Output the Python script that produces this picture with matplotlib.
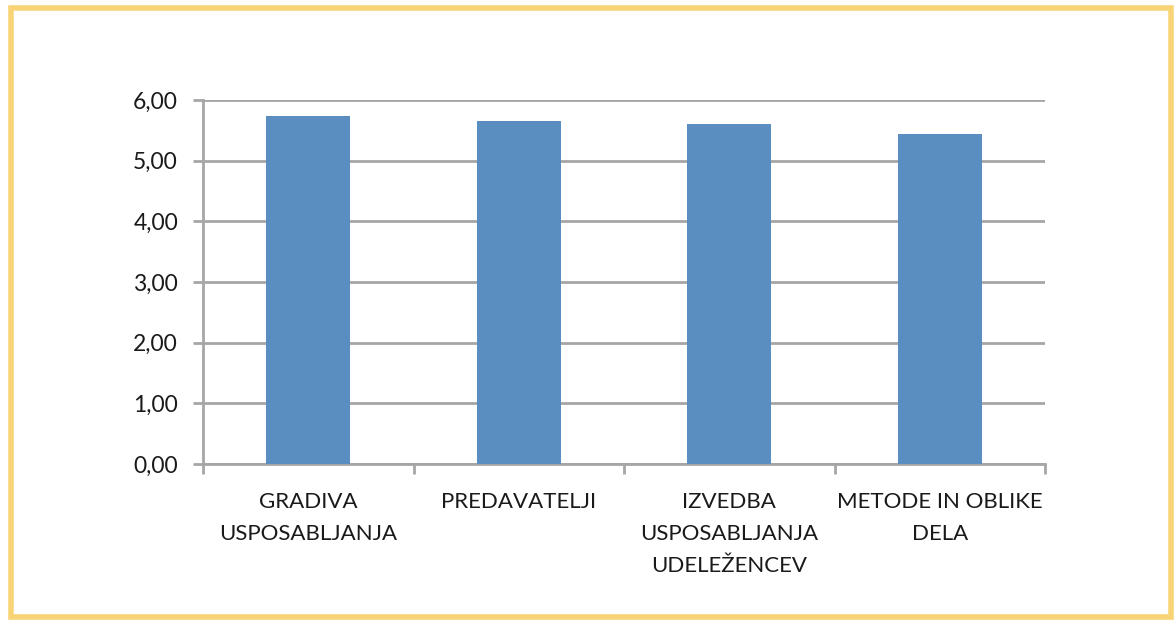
import matplotlib.pyplot as plt
import matplotlib.patches as patches
import numpy as np

plt.rcParams['font.family'] = ['Lato', 'DejaVu Sans']

# data
categories = ['GRADIVA\nUSPOSABLJANJA', 'PREDAVATELJI',
              'IZVEDBA\nUSPOSABLJANJA\nUDELEŽENCEV', 'METODE IN OBLIKE\nDELA']
values = [5.74, 5.65, 5.60, 5.44]
yticks = [0, 1, 2, 3, 4, 5, 6]

W, H = 1176, 621
fig = plt.figure(figsize=(W / 100, H / 100), dpi=100)
fig.patch.set_facecolor('white')

# yellow frame round the picture
fig.add_artist(patches.Rectangle((10.5 / W, 1 - 617 / H), 1160 / W, 609 / H,
                                 transform=fig.transFigure, fill=False,
                                 edgecolor='#F8D477', linewidth=4))

ax = fig.add_axes([203 / W, 1 - 464 / H, (1045 - 203) / W, (464 - 100) / H])
x = np.arange(len(categories))
ax.bar(x, values, width=0.4, color='#5A8EC0', zorder=3)

ax.set_xlim(-0.5, len(categories) - 0.5)
ax.set_ylim(0, 6)
ax.set_yticks(yticks)
ax.set_yticklabels([f'{v:.2f}'.replace('.', ',') for v in yticks])
ax.yaxis.grid(True, color='#A6A6A6', linewidth=2, zorder=0)

# category ticks sit on the boundaries, labels centered between them
ax.set_xticks(np.arange(len(categories) + 1) - 0.5)
ax.set_xticklabels([])
ax.set_xticks(x, minor=True)
ax.set_xticklabels(categories, minor=True, linespacing=1.75,
                   va='top', ha='center')
ax.tick_params(axis='x', which='minor', length=0, pad=20, labelsize=16,
               labelcolor='#1a1a1a')
ax.tick_params(axis='x', which='major', length=7, width=2, color='#A6A6A6')
ax.tick_params(axis='y', length=7, width=2, color='#A6A6A6', pad=11,
               labelsize=16.5, labelcolor='#1a1a1a')

for s in ['top', 'right']:
    ax.spines[s].set_visible(False)
for s in ['left', 'bottom']:
    ax.spines[s].set_color('#A6A6A6')
    ax.spines[s].set_linewidth(2)

fig.savefig('out.png', dpi=100)
